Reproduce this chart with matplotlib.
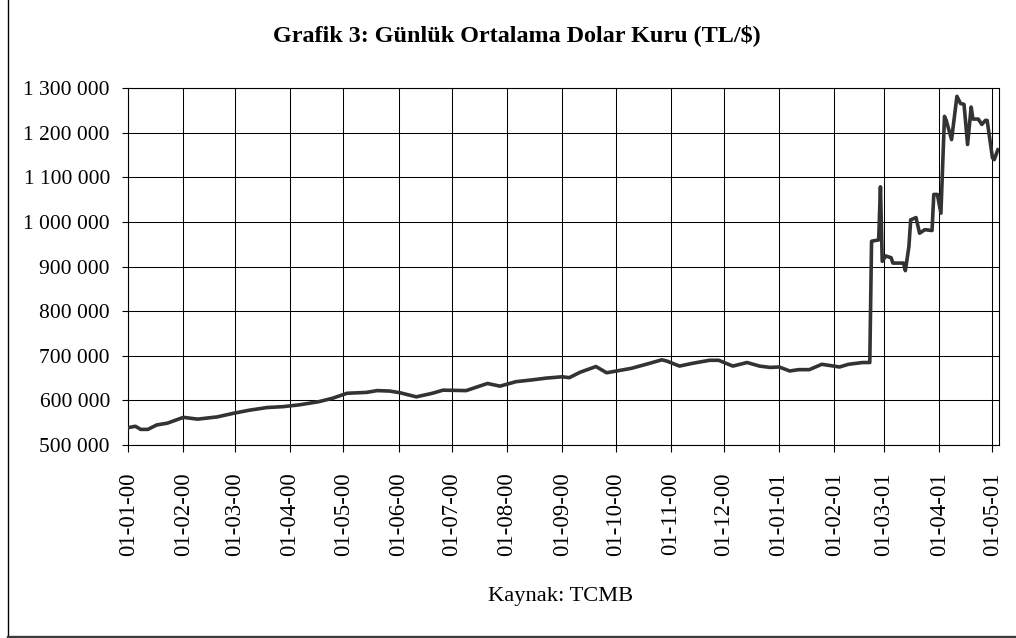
import matplotlib
matplotlib.use("Agg")
import matplotlib.pyplot as plt
import matplotlib.dates as mdates
from matplotlib.lines import Line2D
from matplotlib.ticker import FuncFormatter
import pandas as pd

# Daily average USD rate (TL/$)
dates = ['2000-01-01', '2000-01-05', '2000-01-08', '2000-01-12', '2000-01-17', '2000-01-23',
         '2000-02-01', '2000-02-09', '2000-02-20', '2000-02-29',
         '2000-03-09', '2000-03-19', '2000-03-28',
         '2000-04-06', '2000-04-17', '2000-04-25',
         '2000-05-03', '2000-05-14', '2000-05-20', '2000-05-27',
         '2000-06-02', '2000-06-11', '2000-06-20', '2000-06-26',
         '2000-07-09', '2000-07-21', '2000-07-28',
         '2000-08-06', '2000-08-15', '2000-08-23',
         '2000-09-01', '2000-09-05', '2000-09-11', '2000-09-20', '2000-09-26',
         '2000-10-03', '2000-10-10', '2000-10-20', '2000-10-27', '2000-10-30',
         '2000-11-06', '2000-11-13', '2000-11-23', '2000-11-28',
         '2000-12-06', '2000-12-14', '2000-12-21', '2000-12-27',
         '2001-01-01', '2001-01-07', '2001-01-12', '2001-01-18', '2001-01-25',
         '2001-02-04', '2001-02-09', '2001-02-17', '2001-02-21', '2001-02-22', '2001-02-26',
         '2001-02-27', '2001-02-28',
         '2001-03-02', '2001-03-05', '2001-03-06', '2001-03-12', '2001-03-13', '2001-03-15',
         '2001-03-16', '2001-03-19', '2001-03-21', '2001-03-24', '2001-03-28', '2001-03-29',
         '2001-03-31',
         '2001-04-02', '2001-04-04', '2001-04-05', '2001-04-08', '2001-04-11', '2001-04-13',
         '2001-04-15', '2001-04-17', '2001-04-19', '2001-04-20', '2001-04-23', '2001-04-25',
         '2001-04-27', '2001-04-28',
         '2001-05-01', '2001-05-02', '2001-05-04']

rates = [539000, 542000, 535000, 535000, 545000, 549000,
         562000, 558000, 563000, 571000,
         578000, 584000, 586000,
         590000, 597000, 605000,
         616000, 618000, 622000, 621000,
         617000, 608000, 616000, 623000,
         622000, 638000, 632000,
         642000, 646000, 650000,
         653000, 651000, 663000, 676000, 662000,
         667000, 672000, 683000, 691000, 688000,
         677000, 683000, 690000, 690000,
         677000, 685000, 677000, 674000,
         675000, 666000, 669000, 669000, 681000,
         675000, 681000, 685000, 685000, 957000, 960000,
         1079000, 912000,
         924000, 920000, 908000, 908000, 891000, 945000,
         1005000, 1010000, 975000, 983000, 981000, 1062000,
         1062000,
         1020000, 1237000, 1228000, 1185000, 1282000, 1266000,
         1264000, 1174000, 1258000, 1231000, 1231000, 1219000,
         1228000, 1228000,
         1144000, 1140000, 1162000]

y_ticks = [500000, 600000, 700000, 800000, 900000, 1000000, 1100000, 1200000, 1300000]

title = "Grafik 3: Günlük Ortalama Dolar Kuru (TL/$)"
source = "Kaynak: TCMB"

SERIF = ['Liberation Serif', 'DejaVu Serif']
plt.rcParams['font.family'] = SERIF

W, H = 1016, 638
fig = plt.figure(figsize=(W / 100, H / 100), dpi=100)
fig.patch.set_facecolor('white')

left, right, top, bottom = 128.3, 998.7, 88.3, 445.0
ax = fig.add_axes([left / W, 1 - bottom / H, (right - left) / W, (bottom - top) / H])

x = pd.to_datetime(dates)
ax.plot(x, rates, color='#333333', lw=2.6, solid_joinstyle='round', zorder=3)

ax.set_ylim(500000, 1300000)
ax.set_yticks(y_ticks)
ax.yaxis.set_major_formatter(FuncFormatter(lambda v, p: f"{int(v):,}".replace(',', ' ')))

ax.set_xlim(pd.Timestamp('2000-01-01'), pd.Timestamp('2001-05-04 12:00'))
ax.xaxis.set_major_locator(mdates.MonthLocator())
ax.xaxis.set_major_formatter(mdates.DateFormatter('%d-%m-%y'))

ax.grid(True, which='major', color='black', lw=0.75)
ax.set_axisbelow(True)
for s in ax.spines.values():
    s.set_color('black')
    s.set_linewidth(0.8)

ax.tick_params(axis='y', direction='out', length=4.2, width=0.8, pad=9, labelsize=15.5)
ax.tick_params(axis='x', direction='out', length=4.8, width=0.8, pad=15, labelsize=16.5,
               labelrotation=90)
for lab in ax.get_xticklabels():
    lab.set_verticalalignment('top')
    lab.set_horizontalalignment('center')

fig.text(517 / W, 1 - 35 / H, title, ha='center', va='center', fontsize=17.4,
         fontweight='bold', family=SERIF)
fig.text(561 / W, 1 - 596 / H, source, ha='center', va='center', fontsize=16.2,
         family=SERIF)

# Chart-area frame (partially cropped in the reference)
fig.add_artist(Line2D([8.3 / W, 8.3 / W], [1.5 / H, 1.0], transform=fig.transFigure,
                      color='black', lw=1.0))
fig.add_artist(Line2D([8.3 / W, 1.0], [1.5 / H, 1.5 / H], transform=fig.transFigure,
                      color='#3a3a3a', lw=2.4))

fig.savefig('out.png', dpi=100)
